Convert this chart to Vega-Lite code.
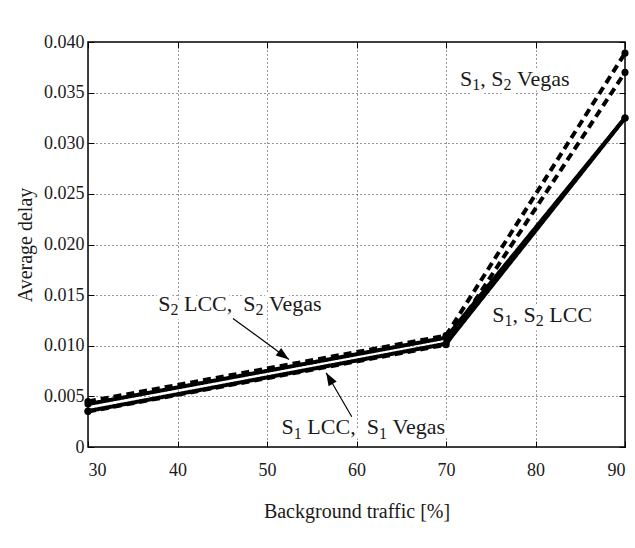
{
  "$schema": "https://vega.github.io/schema/vega-lite/v6.json",
  "autosize": {"type": "none"},
  "width": 537,
  "height": 405,
  "padding": {"left": 88, "top": 42, "right": 10, "bottom": 101},
  "background": "white",
  "config": {
    "font": "Liberation Serif",
    "view": {"stroke": "black", "strokeWidth": 1.5},
    "axis": {
      "labelFont": "Liberation Serif",
      "titleFont": "Liberation Serif",
      "labelFontSize": 18,
      "titleFontSize": 20,
      "titleFontWeight": "normal",
      "labelColor": "#1a1a1a",
      "titleColor": "#1a1a1a",
      "domain": false,
      "tickColor": "black",
      "tickSize": -6,
      "tickWidth": 1,
      "gridColor": "#333",
      "gridDash": [1, 3],
      "gridWidth": 1,
      "gridOpacity": 1
    }
  },
  "datasets": {
    "lines": [
      {"sender": "S1", "method": "LCC", "traffic": 30, "delay": 0.00355},
      {"sender": "S1", "method": "LCC", "traffic": 70, "delay": 0.0102},
      {"sender": "S1", "method": "LCC", "traffic": 90, "delay": 0.0325},
      {"sender": "S2", "method": "LCC", "traffic": 30, "delay": 0.00424},
      {"sender": "S2", "method": "LCC", "traffic": 70, "delay": 0.0108},
      {"sender": "S2", "method": "LCC", "traffic": 90, "delay": 0.0325},
      {"sender": "S1", "method": "Vegas", "traffic": 30, "delay": 0.0035},
      {"sender": "S1", "method": "Vegas", "traffic": 70, "delay": 0.0101},
      {"sender": "S1", "method": "Vegas", "traffic": 90, "delay": 0.0370},
      {"sender": "S2", "method": "Vegas", "traffic": 30, "delay": 0.0045},
      {"sender": "S2", "method": "Vegas", "traffic": 70, "delay": 0.0110},
      {"sender": "S2", "method": "Vegas", "traffic": 90, "delay": 0.0389}
    ],
    "labels": [
      {"label": "A", "part": "main", "traffic": 37.84, "delay": 0.01345, "text": "S"},
      {"label": "A", "part": "sub", "traffic": 39.21, "delay": 0.0130, "text": "2"},
      {"label": "A", "part": "main", "traffic": 40.72, "delay": 0.01345, "text": "LCC,"},
      {"label": "A", "part": "main", "traffic": 47.35, "delay": 0.01345, "text": "S"},
      {"label": "A", "part": "sub", "traffic": 48.72, "delay": 0.0130, "text": "2"},
      {"label": "A", "part": "main", "traffic": 50.23, "delay": 0.01345, "text": "Vegas"},
      {"label": "B", "part": "main", "traffic": 51.63, "delay": 0.00125, "text": "S"},
      {"label": "B", "part": "sub", "traffic": 53.00, "delay": 0.0008, "text": "1"},
      {"label": "B", "part": "main", "traffic": 54.51, "delay": 0.00125, "text": "LCC,"},
      {"label": "B", "part": "main", "traffic": 61.14, "delay": 0.00125, "text": "S"},
      {"label": "B", "part": "sub", "traffic": 62.51, "delay": 0.0008, "text": "1"},
      {"label": "B", "part": "main", "traffic": 64.02, "delay": 0.00125, "text": "Vegas"},
      {"label": "C", "part": "main", "traffic": 71.56, "delay": 0.03567, "text": "S"},
      {"label": "C", "part": "sub", "traffic": 72.93, "delay": 0.03522, "text": "1"},
      {"label": "C", "part": "main", "traffic": 73.82, "delay": 0.03567, "text": ","},
      {"label": "C", "part": "main", "traffic": 75.05, "delay": 0.03567, "text": "S"},
      {"label": "C", "part": "sub", "traffic": 76.42, "delay": 0.03522, "text": "2"},
      {"label": "C", "part": "main", "traffic": 77.93, "delay": 0.03567, "text": "Vegas"},
      {"label": "D", "part": "main", "traffic": 75.18, "delay": 0.01237, "text": "S"},
      {"label": "D", "part": "sub", "traffic": 76.55, "delay": 0.01192, "text": "1"},
      {"label": "D", "part": "main", "traffic": 77.44, "delay": 0.01237, "text": ","},
      {"label": "D", "part": "main", "traffic": 78.67, "delay": 0.01237, "text": "S"},
      {"label": "D", "part": "sub", "traffic": 80.04, "delay": 0.01192, "text": "2"},
      {"label": "D", "part": "main", "traffic": 81.55, "delay": 0.01237, "text": "LCC"}
    ],
    "arrows": [
      {"traffic": 46.2, "delay": 0.0127, "traffic2": 52.45, "delay2": 0.00865, "angle": 126},
      {"traffic": 59.47, "delay": 0.00299, "traffic2": 56.61, "delay2": 0.00734, "angle": 330}
    ]
  },
  "resolve": {"axis": {"x": "independent", "y": "independent"}},
  "layer": [
    {
      "data": {"name": "labels"},
      "mark": {"type": "text", "font": "Liberation Serif", "align": "left", "baseline": "alphabetic", "color": "white", "stroke": "white", "strokeWidth": 9, "strokeJoin": "round"},
      "encoding": {
        "x": {
          "field": "traffic", "type": "quantitative",
          "scale": {"domain": [30, 90], "nice": false, "zero": false},
          "axis": {"values": [30, 40, 50, 60, 70, 80, 90], "title": "Background traffic [%]", "labelPadding": 20, "titlePadding": 22, "grid": true}
        },
        "y": {
          "field": "delay", "type": "quantitative",
          "scale": {"domain": [0, 0.04], "nice": false},
          "axis": {
            "values": [0, 0.005, 0.01, 0.015, 0.02, 0.025, 0.03, 0.035, 0.04],
            "labelExpr": "datum.value == 0 ? '0' : format(datum.value, '.3f')",
            "title": "Average delay", "labelPadding": 10, "titlePadding": 8, "grid": true
          }
        },
        "text": {"field": "text"},
        "size": {"field": "part", "type": "nominal", "scale": {"domain": ["main", "sub"], "range": [22, 16]}, "legend": null}
      }
    },
    {
      "data": {"name": "lines"},
      "mark": {"type": "line", "strokeWidth": 4, "color": "black", "clip": false},
      "encoding": {
        "x": {"field": "traffic", "type": "quantitative", "axis": null},
        "y": {"field": "delay", "type": "quantitative", "axis": null},
        "detail": {"field": "sender"},
        "strokeDash": {
          "field": "method", "type": "nominal",
          "scale": {"domain": ["LCC", "Vegas"], "range": [[1, 0], [8, 5]]},
          "legend": null
        },
        "order": {"field": "traffic"}
      }
    },
    {
      "data": {"name": "lines"},
      "mark": {"type": "point", "filled": true, "color": "black", "opacity": 1, "size": 50, "clip": false},
      "encoding": {
        "x": {"field": "traffic", "type": "quantitative", "axis": {"orient": "top", "labels": false, "title": null, "grid": false, "values": [30, 40, 50, 60, 70, 80, 90]}},
        "y": {"field": "delay", "type": "quantitative", "axis": {"orient": "right", "labels": false, "title": null, "grid": false, "values": [0, 0.005, 0.01, 0.015, 0.02, 0.025, 0.03, 0.035, 0.04]}}
      }
    },
    {
      "data": {"name": "arrows"},
      "mark": {"type": "rule", "color": "black", "strokeWidth": 1.2},
      "encoding": {
        "x": {"field": "traffic", "type": "quantitative", "axis": null},
        "y": {"field": "delay", "type": "quantitative", "axis": null},
        "x2": {"field": "traffic2"},
        "y2": {"field": "delay2"}
      }
    },
    {
      "data": {"name": "arrows"},
      "mark": {"type": "point", "shape": "M0,0L-0.36,1L0.36,1Z", "filled": true, "color": "black", "opacity": 1, "size": 676},
      "encoding": {
        "x": {"field": "traffic2", "type": "quantitative", "axis": null},
        "y": {"field": "delay2", "type": "quantitative", "axis": null},
        "angle": {"field": "angle", "type": "quantitative", "scale": null}
      }
    },
    {
      "data": {"name": "labels"},
      "mark": {"type": "text", "font": "Liberation Serif", "align": "left", "baseline": "alphabetic", "color": "#1a1a1a"},
      "encoding": {
        "x": {"field": "traffic", "type": "quantitative", "axis": null},
        "y": {"field": "delay", "type": "quantitative", "axis": null},
        "text": {"field": "text"},
        "size": {"field": "part", "type": "nominal", "scale": {"domain": ["main", "sub"], "range": [22, 16]}, "legend": null}
      }
    }
  ]
}
